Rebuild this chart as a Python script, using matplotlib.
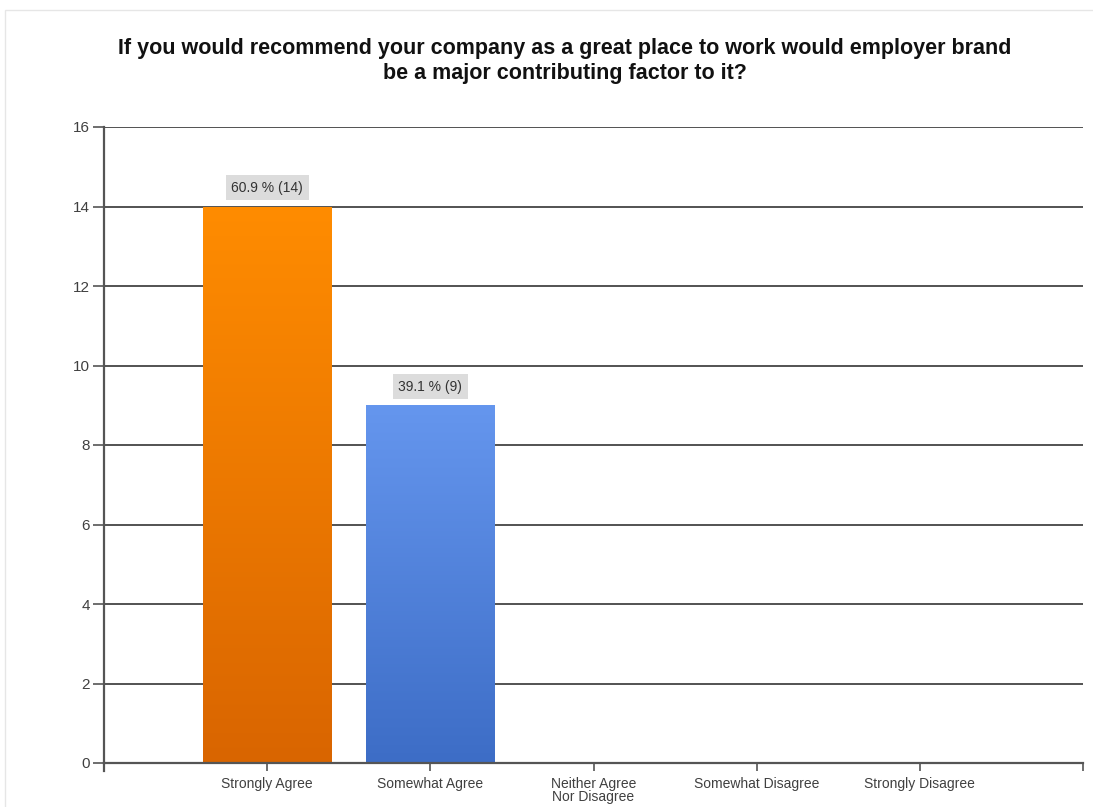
import numpy as np
import matplotlib
matplotlib.use("Agg")
from matplotlib import pyplot as plt
from matplotlib.colors import LinearSegmentedColormap
from matplotlib.patches import Rectangle

plt.rcParams['font.family'] = ['Liberation Sans', 'DejaVu Sans']

categories = ["Strongly Agree", "Somewhat Agree", "Neither Agree\nNor Disagree",
              "Somewhat Disagree", "Strongly Disagree"]
counts = [14, 9, 0, 0, 0]
percents = [60.9, 39.1, 0, 0, 0]
# top colour, bottom colour for each bar
bar_colors = [("#FF8C00", "#D96500"), ("#6596EE", "#3D6DC6"), None, None, None]
title = ("If you would recommend your company as a great place to work would employer brand\n"
         "be a major contributing factor to it?")

fig = plt.figure(figsize=(10.93, 8.07), dpi=100)
ax = fig.add_axes([104 / 1093, 1 - 763 / 807, 979 / 1093, 636 / 807])

positions = np.arange(1, len(categories) + 1)
ax.set_xlim(0, 6)
ax.set_ylim(0, 16)

grid_col = "#444444"
for yv in range(2, 17, 2):
    ax.axhline(yv, color=grid_col, lw=1.3, zorder=1)

bars = ax.bar(positions, counts, width=0.79, color="none", zorder=2)
for b, cols, n, p in zip(bars, bar_colors, counts, percents):
    if cols is None or n == 0:
        continue
    cmap = LinearSegmentedColormap.from_list("g", [cols[1], cols[0]])
    grad = np.linspace(0, 1, 256).reshape(-1, 1)
    x0 = b.get_x()
    w = b.get_width()
    im = ax.imshow(grad, cmap=cmap, origin="lower", aspect="auto",
                   extent=[x0, x0 + w, 0, n], zorder=2)
    im.set_clip_path(b)
    ax.text(b.get_x() + w / 2, n + 0.47, "%.1f %% (%d)" % (p, n), ha="center", va="center",
            fontsize=10, color="#333333", zorder=4,
            bbox=dict(boxstyle="square,pad=0.4", fc="#dcdcdc", ec="none"))
ax.set_xlim(0, 6)
ax.set_ylim(0, 16)

for s in ["top", "right"]:
    ax.spines[s].set_visible(False)
for s in ["left", "bottom"]:
    ax.spines[s].set_color("#555555")
    ax.spines[s].set_linewidth(1.6)
ax.spines["left"].set_zorder(5)
ax.spines["bottom"].set_zorder(5)
# left axis line continues a little below the x axis
ax.plot([0, 0], [0, -0.012], transform=ax.transAxes, color="#555555", lw=1.6, clip_on=False)

ax.set_yticks(range(0, 17, 2))
ax.set_xticks(list(positions) + [6])
ax.set_xticklabels(categories + [""])
ax.tick_params(axis="y", length=8, width=1.2, color="#555555", labelsize=11,
               labelcolor="#404040", pad=2)
ax.tick_params(axis="x", length=6, width=1.2, color="#555555", labelsize=10,
               labelcolor="#404040", pad=4)
for lbl in ax.get_xticklabels():
    lbl.set_linespacing(0.9)

fig.text(565 / 1093, 1 - 61 / 807, title, ha="center", va="center", fontsize=15.5,
         fontweight="bold", color="#111111", linespacing=1.2)

# faint frame around the picture
fig.patches.append(Rectangle((5 / 1093, -0.01), 1.0, 1 - 10 / 807 + 0.01, transform=fig.transFigure,
                             fill=False, ec="#e6e6e6", lw=1))

fig.savefig("out.png", dpi=100)
